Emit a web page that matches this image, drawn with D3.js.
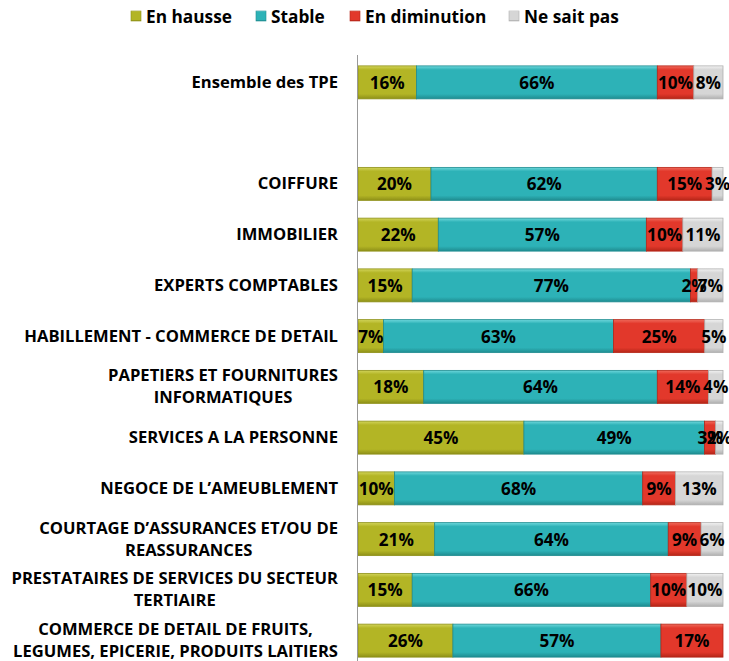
<!DOCTYPE html>
<html><head><meta charset="utf-8">
<script src="https://cdn.jsdelivr.net/npm/d3@7/dist/d3.min.js"></script>
<style>body{margin:0;background:#fff}svg{display:block}</style>
</head><body><svg id="c" width="729" height="661"></svg>
<script>
const categories = [
  ["Ensemble des TPE"],
  [""],
  ["COIFFURE"],
  ["IMMOBILIER"],
  ["EXPERTS COMPTABLES"],
  ["HABILLEMENT - COMMERCE DE DETAIL"],
  ["PAPETIERS ET FOURNITURES", "INFORMATIQUES"],
  ["SERVICES A LA PERSONNE"],
  ["NEGOCE DE L\u2019AMEUBLEMENT"],
  ["COURTAGE D\u2019ASSURANCES ET/OU DE", "REASSURANCES"],
  ["PRESTATAIRES DE SERVICES DU SECTEUR", "TERTIAIRE"],
  ["COMMERCE DE DETAIL DE FRUITS,", "LEGUMES, EPICERIE, PRODUITS LAITIERS"]
];
const seriesNames = ["En hausse", "Stable", "En diminution", "Ne sait pas"];
const enHausse     = [16, null, 20, 22, 15, 7, 18, 45, 10, 21, 15, 26];
const stable       = [66, null, 62, 57, 77, 63, 64, 49, 68, 64, 66, 57];
const enDiminution = [10, null, 15, 10, 2, 25, 14, 3, 9, 9, 10, 17];
const neSaitPas    = [8, null, 3, 11, 7, 5, 4, 2, 13, 6, 10, 0];
const colors = ["#b3b525", "#2db2b7", "#e2382b", "#d6d6d6"];
const colorsLight = ["#d2d45a", "#6fd8dc", "#f06a5c", "#f2f2f2"];
const colorsDark = ["#8e9018", "#1f8c90", "#b52618", "#b0b0b0"];

const series = [enHausse, stable, enDiminution, neSaitPas];
const rows = categories.map((c, i) => {
  const o = {key: "r" + i, label: c, empty: enHausse[i] == null};
  seriesNames.forEach((s, j) => o[s] = series[j][i] == null ? 0 : series[j][i]);
  return o;
});

const svg = d3.select("#c");
const defs = svg.append("defs");
colors.forEach((c, i) => {
  const g = defs.append("linearGradient").attr("id", "g" + i).attr("x1", 0).attr("y1", 0).attr("x2", 0).attr("y2", 1);
  g.append("stop").attr("offset", "0").attr("stop-color", colorsLight[i]);
  g.append("stop").attr("offset", "0.12").attr("stop-color", c);
  g.append("stop").attr("offset", "0.85").attr("stop-color", c);
  g.append("stop").attr("offset", "1").attr("stop-color", colorsDark[i]);
});

const font = "'Open Sans', sans-serif";
function measure(str, size) {
  const t = svg.append("text").attr("font-family", font).attr("font-weight", "bold").attr("font-size", size).text(str);
  const w = t.node().getComputedTextLength();
  t.remove();
  return w;
}
function fitSize(str, target) { return 20 * target / measure(str, 20); }
const catSize = fitSize("HABILLEMENT - COMMERCE DE DETAIL", 314);
const pctSize = fitSize("66%", 35);
const legSize = fitSize("En hausse", 86);

const x = d3.scaleLinear().domain([0, 1]).range([358, 723]);
const y = d3.scaleBand().domain(rows.map(r => r.key)).range([57, 666]).paddingInner(0.35).paddingOuter(0.175);

const stackGen = d3.stack().keys(seriesNames).offset(d3.stackOffsetExpand);
const stacked = stackGen(rows.filter(r => !r.empty));

stacked.forEach((layer, i) => {
  const g = svg.append("g");
  layer.forEach(d => {
    const val = d.data[seriesNames[i]];
    if (!val) return;
    const x0 = x(d[0]), x1 = x(d[1]);
    g.append("rect").attr("x", x0).attr("y", y(d.data.key)).attr("width", Math.max(0, x1 - x0)).attr("height", y.bandwidth())
      .attr("fill", `url(#g${i})`).attr("stroke", colorsDark[i]).attr("stroke-width", 0.8);
  });
});
stacked.forEach((layer, i) => {
  const g = svg.append("g");
  layer.forEach(d => {
    const val = d.data[seriesNames[i]];
    if (!val) return;
    const x0 = x(d[0]), x1 = x(d[1]);
    g.append("text").attr("x", (x0 + x1) / 2).attr("y", y(d.data.key) + y.bandwidth() / 2)
      .attr("text-anchor", "middle").attr("dominant-baseline", "central")
      .attr("font-family", font).attr("font-weight", "bold").attr("font-size", pctSize).attr("fill", "#000")
      .text(val + "%");
  });
});

// axis line
svg.append("line").attr("x1", 357.5).attr("x2", 357.5).attr("y1", 55).attr("y2", 661).attr("stroke", "#999").attr("stroke-width", 1);

// category labels: block right-aligned, lines centered within block
rows.forEach(r => {
  if (r.empty) return;
  const cy = y(r.key) + y.bandwidth() / 2 - 1;
  const n = r.label.length;
  const maxW = d3.max(r.label, l => measure(l, catSize));
  const t = svg.append("text").attr("text-anchor", "middle").attr("font-family", font).attr("font-weight", "bold")
    .attr("font-size", catSize).attr("fill", "#000");
  r.label.forEach((l, k) => {
    t.append("tspan").attr("x", 338 - maxW / 2).attr("y", cy + (k - (n - 1) / 2) * 22).attr("dominant-baseline", "central").text(l);
  });
});

// legend
const legX = [131, 256, 350, 509];
seriesNames.forEach((s, i) => {
  svg.append("rect").attr("x", legX[i]).attr("y", 11).attr("width", 10).attr("height", 10)
    .attr("fill", `url(#g${i})`).attr("stroke", colorsDark[i]).attr("stroke-width", 0.6);
  svg.append("text").attr("x", legX[i] + 15).attr("y", 16).attr("dominant-baseline", "central")
    .attr("font-family", font).attr("font-weight", "bold").attr("font-size", legSize).attr("fill", "#000").text(s);
});
</script></body></html>
